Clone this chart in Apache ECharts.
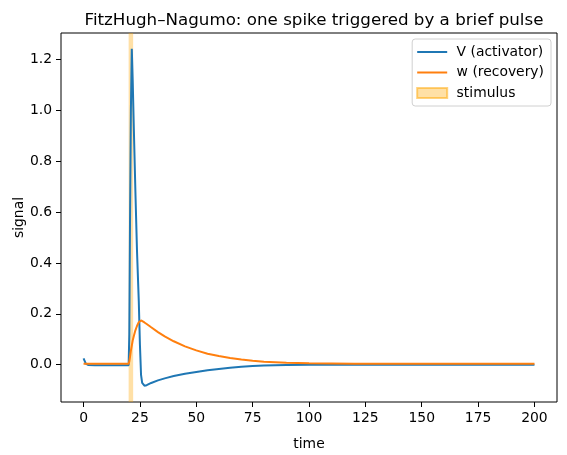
<!DOCTYPE html>
<html>
<head>
<meta charset="utf-8">
<script src="https://cdn.jsdelivr.net/npm/echarts@6/dist/echarts.min.js"></script>
<style>
  html, body { margin: 0; padding: 0; background: #fff; }
  #chart { width: 567px; height: 455px; }
</style>
</head>
<body>
<div id="chart"></div>
<script>
// readings
const times = [0, 1, 2, 5, 10, 15, 20, 20.3, 20.6, 21, 21.4, 21.8, 22.3, 23, 23.7, 24.5, 25, 25.5, 26, 27, 28,
  30, 33, 36, 40, 45, 50, 55, 60, 65, 70, 75, 80, 90, 100, 120, 150, 200];
const activator = [0.025, 0.004, -0.001, -0.002, -0.002, -0.002, -0.002, 0.12, 0.55, 1.0, 1.243, 1.12, 0.93, 0.68, 0.45, 0.25, 0.08, -0.04, -0.072, -0.083, -0.081,
  -0.072, -0.062, -0.054, -0.045, -0.036, -0.029, -0.022, -0.017, -0.012, -0.008, -0.005, -0.003, -0.001, 0.0, 0.0, 0.0, 0.0];
const recovery = [0.004, 0.004, 0.004, 0.004, 0.004, 0.004, 0.004, 0.012, 0.03, 0.055, 0.075, 0.095, 0.113, 0.135, 0.152, 0.167, 0.173, 0.174, 0.172, 0.166, 0.160,
  0.147, 0.128, 0.111, 0.092, 0.072, 0.056, 0.043, 0.034, 0.026, 0.020, 0.015, 0.011, 0.007, 0.005, 0.004, 0.004, 0.004];
const stimulus = [20, 22];
const xTicks = [0, 25, 50, 75, 100, 125, 150, 175, 200];
const yTicks = [0, 0.2, 0.4, 0.6, 0.8, 1.0, 1.2];

const font = 'DejaVu Sans';
const fs = 13.9;
const lineIcon = 'path://M0,0H30V2H0Z';
const chart = echarts.init(document.getElementById('chart'));

chart.setOption({
  animation: false,
  textStyle: { fontFamily: font },
  title: {
    text: 'FitzHugh\u2013Nagumo: one spike triggered by a brief pulse',
    left: 309,
    textAlign: 'center',
    top: 7,
    textStyle: { fontFamily: font, fontSize: 16.7, fontWeight: 'normal', color: '#000' }
  },
  grid: {
    left: 61, right: 10, top: 33, bottom: 53,
    containLabel: false,
    outerBoundsMode: 'none',
    show: true, borderColor: '#000', borderWidth: 1, backgroundColor: 'transparent'
  },
  legend: {
    orient: 'vertical',
    right: 16,
    top: 39,
    padding: [6, 7, 6, 4],
    itemGap: 6.5,
    itemWidth: 30,
    itemHeight: 10,
    borderColor: '#d0d0d0',
    borderWidth: 1,
    borderRadius: 3,
    backgroundColor: '#fff',
    formatter: name => ' ' + name,
    textStyle: { fontFamily: font, fontSize: fs, color: '#000' },
    data: [
      { name: 'V (activator)', icon: lineIcon },
      { name: 'w (recovery)', icon: lineIcon },
      { name: 'stimulus', icon: 'rect' }
    ]
  },
  xAxis: {
    type: 'value',
    min: -10,
    max: 210,
    name: 'time',
    nameLocation: 'middle',
    nameGap: 35,
    nameTextStyle: { fontFamily: font, fontSize: fs, color: '#000' },
    axisLine: { show: false, onZero: false },
    axisTick: { show: true, length: 5, customValues: xTicks, lineStyle: { color: '#000' } },
    axisLabel: { customValues: xTicks, fontFamily: font, fontSize: fs, color: '#000', margin: 9 },
    splitLine: { show: false }
  },
  yAxis: {
    type: 'value',
    min: -0.147,
    max: 1.305,
    name: 'signal',
    nameLocation: 'middle',
    nameGap: 35,
    nameMoveOverlap: false,
    nameTextStyle: { fontFamily: font, fontSize: fs, color: '#000' },
    axisLine: { show: false, onZero: false },
    axisTick: { show: true, length: 5, customValues: yTicks, lineStyle: { color: '#000' } },
    axisLabel: {
      customValues: yTicks, fontFamily: font, fontSize: fs, color: '#000', margin: 9,
      formatter: v => v.toFixed(1)
    },
    splitLine: { show: false }
  },
  series: [
    {
      name: 'stimulus',
      type: 'line',
      data: [],
      z: 1,
      symbol: 'none',
      itemStyle: { color: 'rgba(255,165,0,0.35)', borderColor: 'rgba(255,165,0,0.5)', borderWidth: 1 },
      markArea: {
        silent: true,
        itemStyle: { color: 'rgba(255,165,0,0.35)' },
        data: [[{ xAxis: stimulus[0] }, { xAxis: stimulus[1] }]]
      }
    },
    {
      name: 'V (activator)',
      type: 'line',
      z: 3,
      symbol: 'none',
      data: times.map((t, i) => [t, activator[i]]),
      itemStyle: { color: '#1f77b4' },
      lineStyle: { color: '#1f77b4', width: 2 }
    },
    {
      name: 'w (recovery)',
      type: 'line',
      z: 4,
      symbol: 'none',
      data: times.map((t, i) => [t, recovery[i]]),
      itemStyle: { color: '#ff7f0e' },
      lineStyle: { color: '#ff7f0e', width: 2 }
    }
  ]
});
</script>
</body>
</html>
